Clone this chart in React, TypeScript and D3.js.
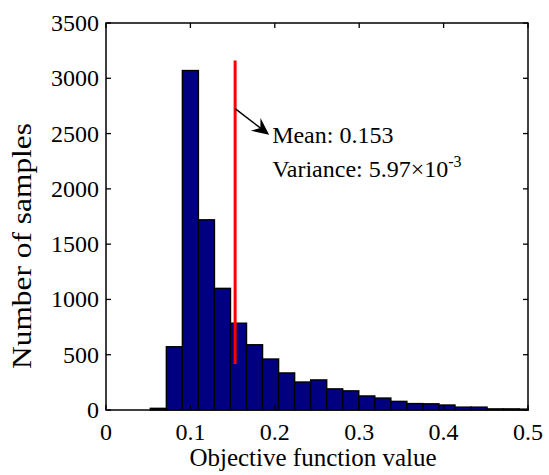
import * as d3 from 'd3';
import React, { useEffect, useRef } from 'react';

// histogram bins (MATLAB hist style, fixed width)
const binStart = 0.0525;
const binWidth = 0.019;
const counts = [15, 572, 3070, 1720, 1100, 785, 590, 461, 335, 253, 272, 191, 173, 127, 108, 78, 58, 56, 45, 26, 26, 10, 10, 8];

const xTicks = [0, 0.1, 0.2, 0.3, 0.4, 0.5];
const yTicks = [0, 500, 1000, 1500, 2000, 2500, 3000, 3500];

// mean marker
const meanValue = 0.153;
const meanLineRange = [415, 3160];
const meanLabel = 'Mean: 0.153';
const varLabel = 'Variance: 5.97\u00d710';
const varExp = '-3';

const App = () => {
  const svgRef = useRef(null);

  useEffect(() => {
    document.body.style.margin = '0';
    const svg = d3.select(svgRef.current);
    svg.selectAll('*').remove();

    const margin = { top: 23, right: 21, bottom: 65, left: 106 };
    const width = 549, height = 475;
    const innerW = width - margin.left - margin.right;
    const innerH = height - margin.top - margin.bottom;
    const font = '"Liberation Serif", "Times New Roman", serif';

    const x = d3.scaleLinear().domain([0, 0.5]).range([0, innerW]);
    const y = d3.scaleLinear().domain([0, 3500]).range([innerH, 0]);

    svg.append('defs').append('clipPath').attr('id', 'plotclip')
      .append('rect').attr('x', -1).attr('y', -1).attr('width', innerW + 2).attr('height', innerH + 2);

    const g = svg.append('g').attr('transform', `translate(${margin.left},${margin.top})`);

    // bars
    g.append('g').attr('clip-path', 'url(#plotclip)')
      .selectAll('rect')
      .data(counts)
      .enter()
      .append('rect')
        .attr('x', (d, i) => x(binStart + i * binWidth))
        .attr('width', x(binWidth) - x(0))
        .attr('y', d => y(d))
        .attr('height', d => y(0) - y(d))
        .attr('fill', '#000080')
        .attr('stroke', '#000')
        .attr('stroke-width', 1.4);

    // mean line
    g.append('line')
      .attr('x1', x(meanValue)).attr('x2', x(meanValue))
      .attr('y1', y(meanLineRange[0])).attr('y2', y(meanLineRange[1]))
      .attr('stroke', '#ff0000')
      .attr('stroke-width', 3);

    // arrow
    const ax0 = x(meanValue), ay0 = y(2725);
    const ax1 = ax0 + 34, ay1 = ay0 + 26;
    const len = Math.hypot(ax1 - ax0, ay1 - ay0);
    const ux = (ax1 - ax0) / len, uy = (ay1 - ay0) / len;
    const nx = -uy, ny = ux;
    const hl = 17, hw = 8;
    g.append('line')
      .attr('x1', ax0).attr('y1', ay0)
      .attr('x2', ax1 - ux * 10).attr('y2', ay1 - uy * 10)
      .attr('stroke', '#000').attr('stroke-width', 1.5);
    const bx = ax1 - ux * hl, by = ay1 - uy * hl;
    g.append('path')
      .attr('d', `M${ax1},${ay1} L${bx + nx * hw},${by + ny * hw} L${ax1 - ux * 11},${ay1 - uy * 11} L${bx - nx * hw},${by - ny * hw} Z`)
      .attr('fill', '#000');

    // annotation text
    g.append('text')
      .attr('x', ax1 + 3).attr('y', 143 - margin.top)
      .attr('font-family', font).attr('font-size', 24)
      .text(meanLabel);
    const vt = g.append('text')
      .attr('x', ax1 + 3).attr('y', 177 - margin.top)
      .attr('font-family', font).attr('font-size', 24);
    vt.append('tspan').text(varLabel);
    vt.append('tspan').attr('dy', -10).attr('font-size', 16).text(varExp);

    // axes box
    g.append('rect')
      .attr('width', innerW).attr('height', innerH)
      .attr('fill', 'none').attr('stroke', '#000').attr('stroke-width', 1.5);

    const tl = 5;
    xTicks.forEach(t => {
      g.append('line').attr('x1', x(t)).attr('x2', x(t)).attr('y1', innerH).attr('y2', innerH - tl)
        .attr('stroke', '#000').attr('stroke-width', 1.3);
      g.append('line').attr('x1', x(t)).attr('x2', x(t)).attr('y1', 0).attr('y2', tl)
        .attr('stroke', '#000').attr('stroke-width', 1.3);
      g.append('text')
        .attr('x', x(t)).attr('y', innerH + 29.5)
        .attr('text-anchor', 'middle')
        .attr('font-family', font).attr('font-size', 24)
        .text(d3.format('~g')(t));
    });
    yTicks.forEach(t => {
      g.append('line').attr('x1', 0).attr('x2', tl).attr('y1', y(t)).attr('y2', y(t))
        .attr('stroke', '#000').attr('stroke-width', 1.3);
      g.append('line').attr('x1', innerW).attr('x2', innerW - tl).attr('y1', y(t)).attr('y2', y(t))
        .attr('stroke', '#000').attr('stroke-width', 1.3);
      g.append('text')
        .attr('x', -7).attr('y', y(t) + 8)
        .attr('text-anchor', 'end')
        .attr('font-family', font).attr('font-size', 24)
        .text(t);
    });

    // axis titles
    svg.append('text')
      .attr('x', 313).attr('y', 466)
      .attr('text-anchor', 'middle')
      .attr('font-family', font).attr('font-size', 25)
      .text('Objective function value');
    svg.append('text')
      .attr('transform', 'translate(31,246) rotate(-90)')
      .attr('text-anchor', 'middle')
      .attr('font-family', font).attr('font-size', 27)
      .attr('textLength', 246).attr('lengthAdjust', 'spacingAndGlyphs')
      .text('Number of samples');
  }, []);

  return (
    <svg ref={svgRef} width="549" height="475" style={{ display: 'block', background: '#fff' }}></svg>
  );
};

export default App;
